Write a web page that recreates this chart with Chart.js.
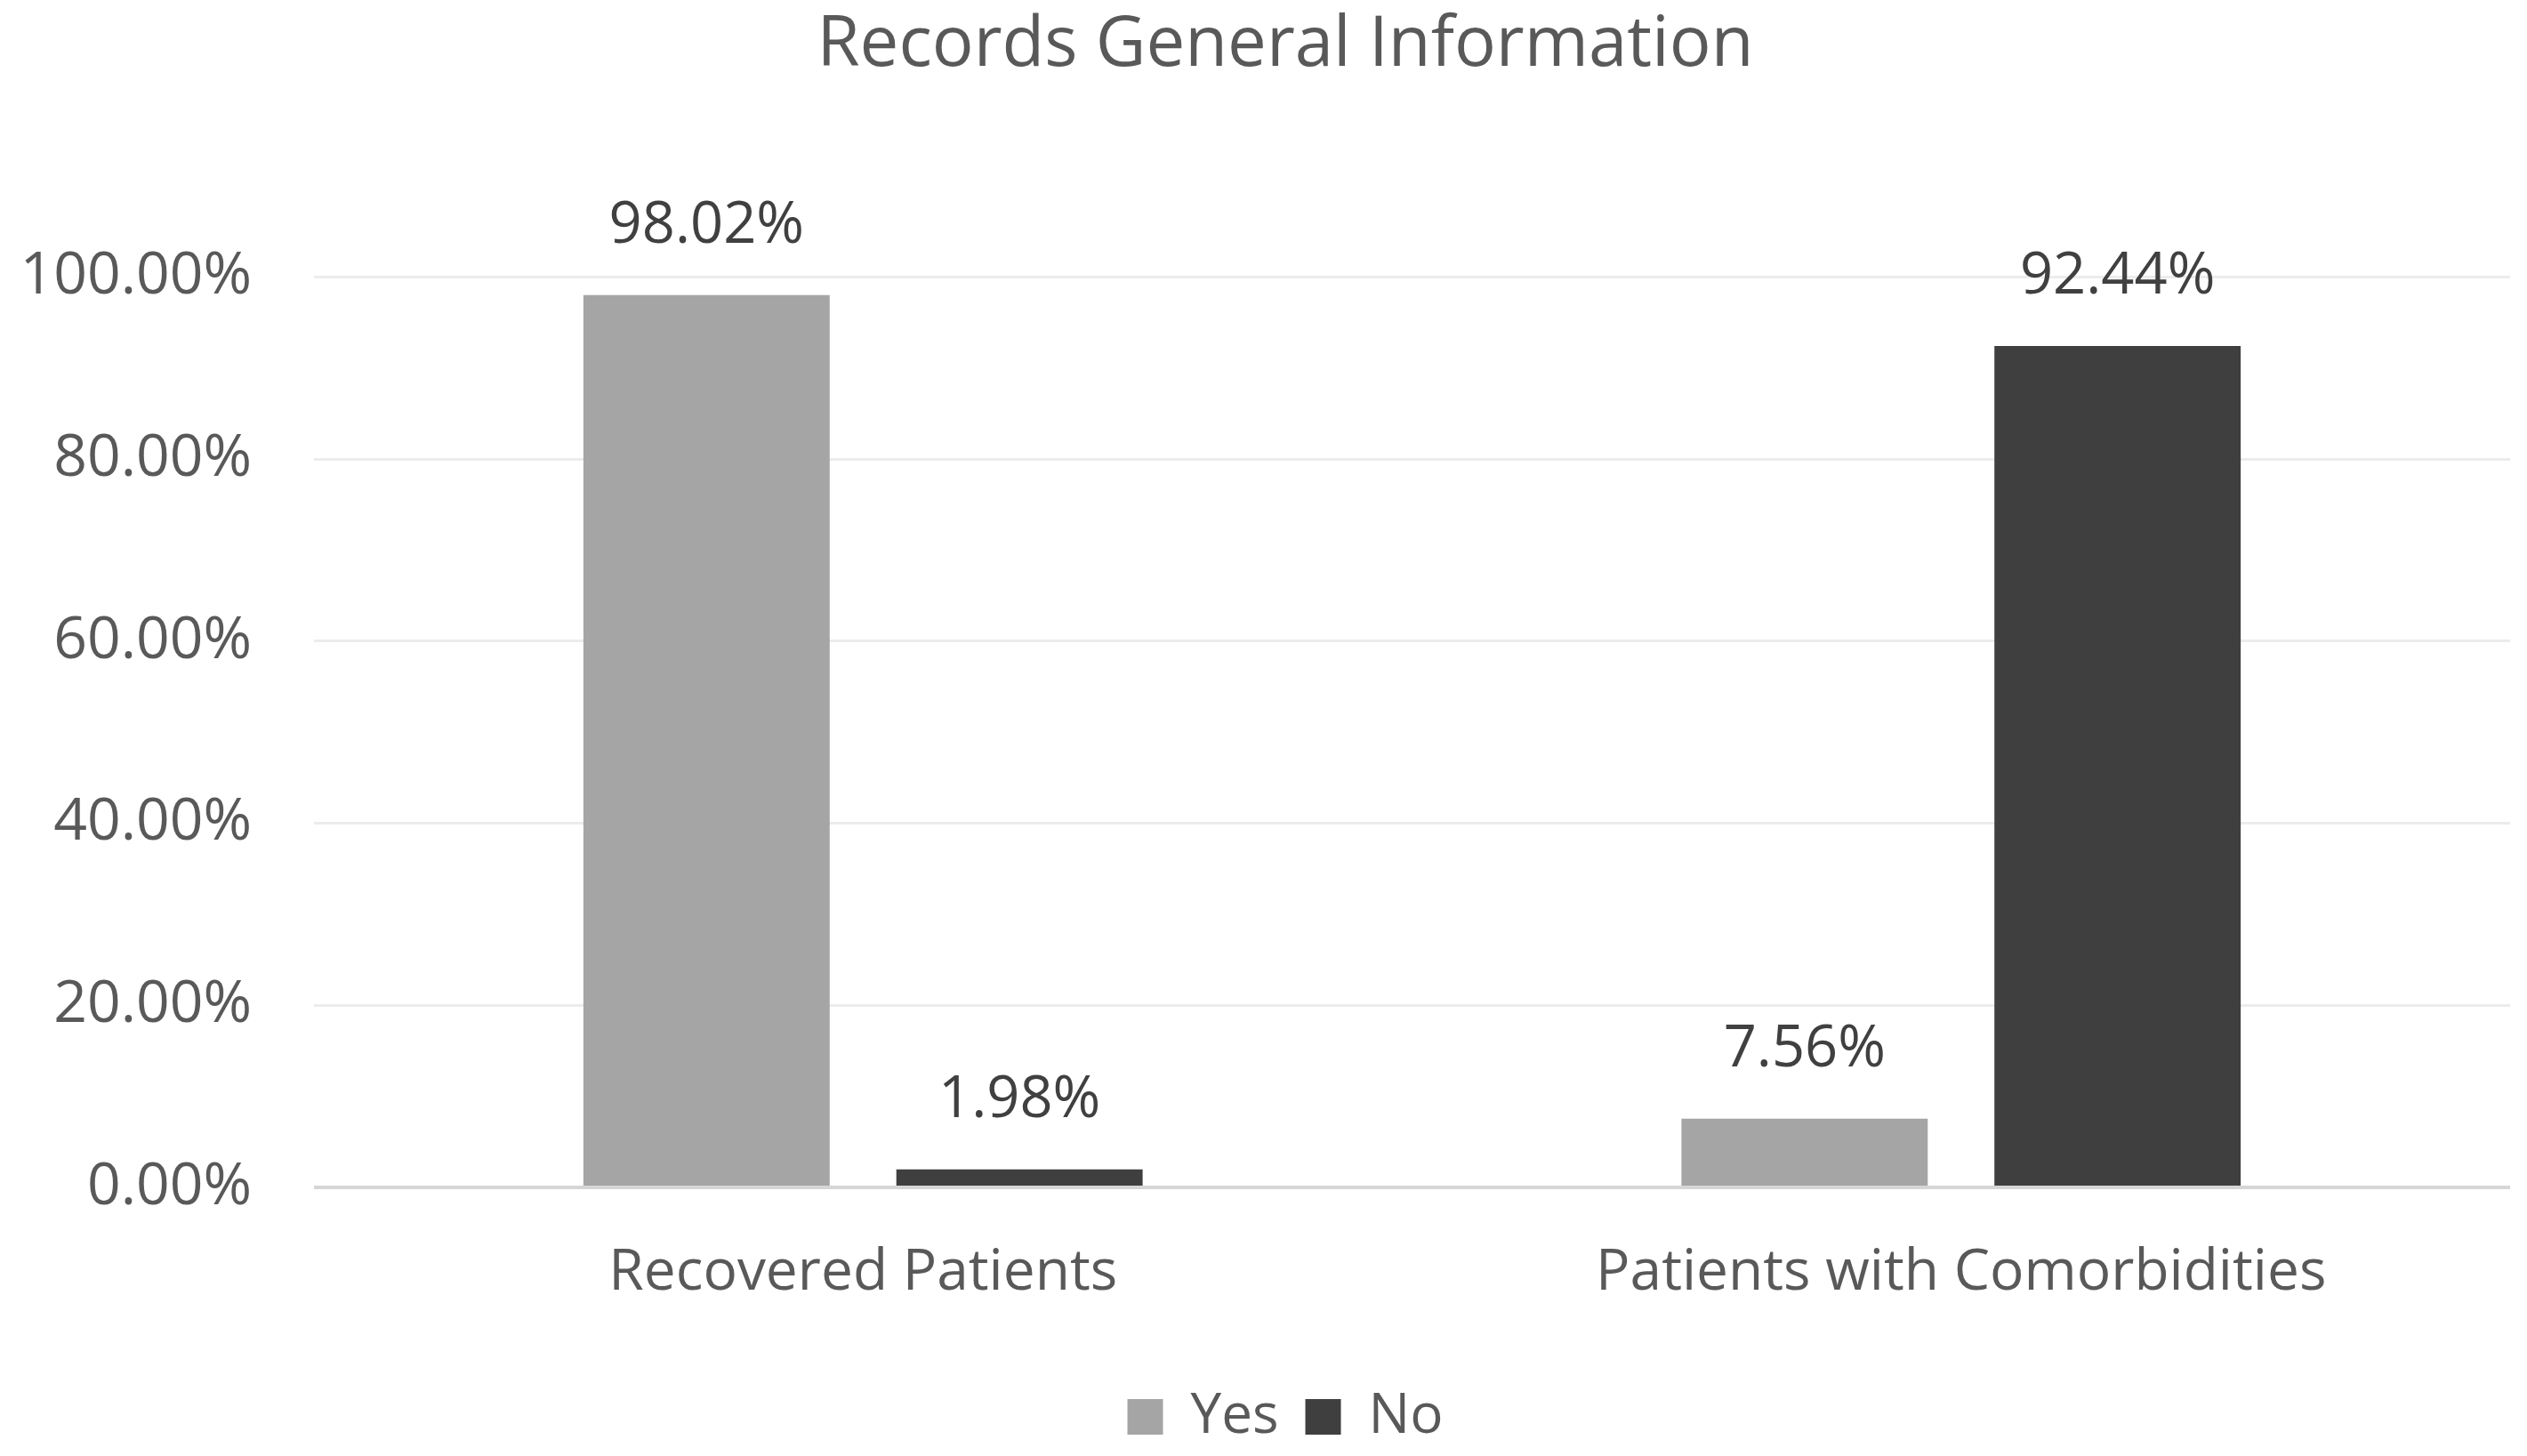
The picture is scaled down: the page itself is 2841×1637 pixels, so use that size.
<!DOCTYPE html>
<html>
<head>
<meta charset="utf-8">
<script src="https://cdn.jsdelivr.net/npm/chart.js@4.4.0/dist/chart.umd.min.js"></script>
<style>
  html, body { margin: 0; padding: 0; background: #fff; }
  #wrap { width: 2841px; height: 1637px; }
</style>
</head>
<body>
<div id="wrap"><canvas id="myChart"></canvas></div>
<script>
var categories = ["Recovered Patients", "Patients with Comorbidities"];
var seriesNames = ["Yes", "No"];
var yesValues = [98.02, 7.56];
var noValues = [1.98, 92.44];
var barColors = ["#a5a5a5", "#3f3f3f"];

var FONT = "'Open Sans', 'Noto Sans', sans-serif";

// draws the percentage above each bar
var valueLabels = {
  id: "valueLabels",
  afterDatasetsDraw: function(chart) {
    var ctx = chart.ctx;
    ctx.save();
    ctx.font = "65px " + FONT;
    ctx.fillStyle = "#404040";
    ctx.textAlign = "center";
    ctx.textBaseline = "middle";
    chart.data.datasets.forEach(function(ds, i) {
      chart.getDatasetMeta(i).data.forEach(function(bar, j) {
        ctx.fillText(ds.data[j].toFixed(2) + "%", bar.x, bar.y - 77);
      });
    });
    ctx.restore();
  }
};

// title and legend sit a bit right of the canvas centre in the original
var nudgeBoxes = {
  id: "nudgeBoxes",
  afterLayout: function(chart) {
    var dx = 34;
    [chart.titleBlock, chart.legend].forEach(function(b) {
      if (b) { b.left += dx; b.right += dx; }
    });
  }
};

new Chart("myChart", {
  type: "bar",
  data: {
    labels: categories,
    datasets: [{
      label: seriesNames[0],
      backgroundColor: barColors[0],
      data: yesValues
    }, {
      label: seriesNames[1],
      backgroundColor: barColors[1],
      data: noValues
    }]
  },
  options: {
    responsive: true,
    maintainAspectRatio: false,
    animation: false,
    categoryPercentage: 0.57,
    barPercentage: 0.787,
    layout: { padding: { left: 0, right: 19, top: 5, bottom: 3 } },
    plugins: {
      title: {
        display: true,
        text: "Records General Information",
        color: "#595959",
        font: { family: FONT, size: 78, weight: "normal" },
        padding: { top: 0, bottom: 213 }
      },
      legend: {
        display: true,
        position: "bottom",
        labels: {
          color: "#595959",
          font: { family: FONT, size: 62 },
          boxWidth: 40,
          boxHeight: 40,
          padding: 30
        }
      },
      tooltip: { enabled: false }
    },
    scales: {
      x: {
        grid: { display: false },
        border: { display: false },
        ticks: {
          color: "#595959",
          font: { family: FONT, size: 64 },
          padding: 50,
          maxRotation: 0
        },
        afterFit: function(scale) { scale.height = 197; }
      },
      y: {
        min: 0,
        max: 100,
        ticks: {
          stepSize: 20,
          color: "#595959",
          font: { family: FONT, size: 66 },
          padding: 70,
          callback: function(v) { return v.toFixed(2) + "%"; }
        },
        grid: {
          drawTicks: false,
          lineWidth: function(c) { return c.tick && c.tick.value === 0 ? 4 : 3; },
          color: function(c) { return c.tick && c.tick.value === 0 ? "#d6d6d6" : "#ececec"; }
        },
        border: { display: false },
        afterFit: function(scale) { scale.width = 353; }
      }
    }
  },
  plugins: [valueLabels, nudgeBoxes]
});
</script>
</body>
</html>
